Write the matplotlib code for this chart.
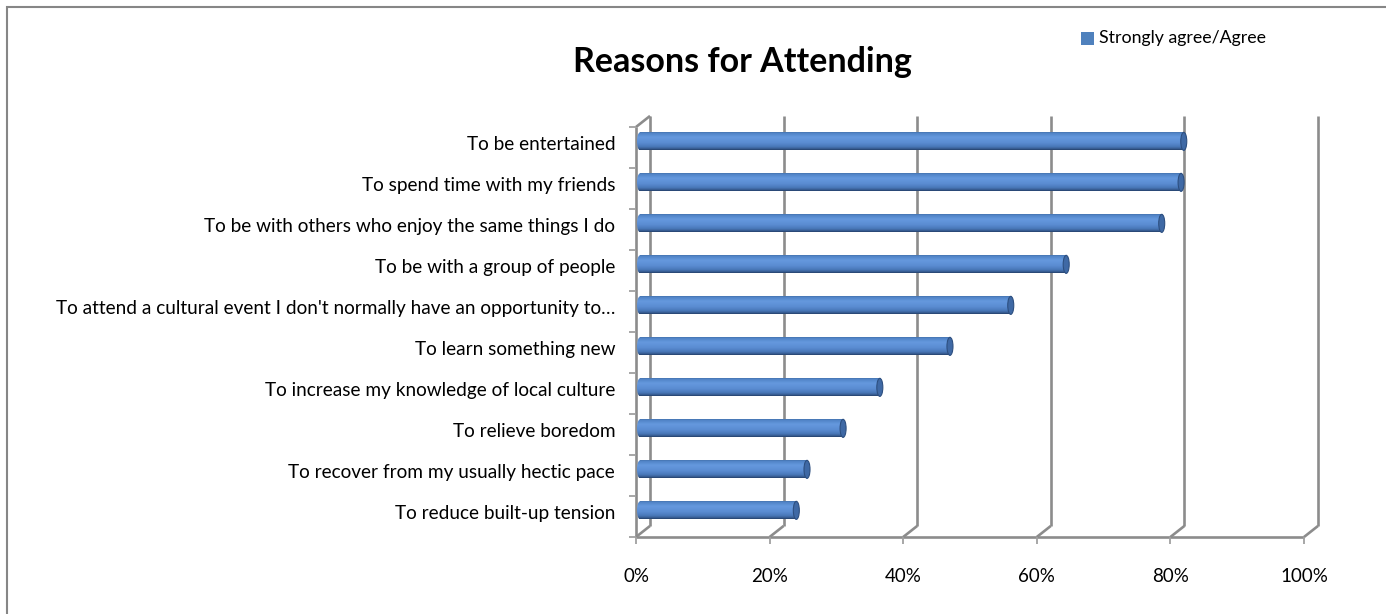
import numpy as np
import matplotlib
matplotlib.use("Agg")
import matplotlib.pyplot as plt
from matplotlib.colors import LinearSegmentedColormap
from matplotlib.patches import Ellipse, Rectangle

plt.rcParams['font.family'] = ['Lato', 'DejaVu Sans']

reasons = [
    "To be entertained",
    "To spend time with my friends",
    "To be with others who enjoy the same things I do",
    "To be with a group of people",
    "To attend a cultural event I don't normally have an opportunity to\u2026",
    "To learn something new",
    "To increase my knowledge of local culture",
    "To relieve boredom",
    "To recover from my usually hectic pace",
    "To reduce built-up tension",
]
agree_pct = [81.4, 81.0, 78.1, 63.8, 55.5, 46.4, 35.9, 30.4, 25.0, 23.4]
x_ticks = [0, 20, 40, 60, 80, 100]
x_ticklabels = ["0%", "20%", "40%", "60%", "80%", "100%"]
series_name = "Strongly agree/Agree"

W, H = 1386, 614
fig = plt.figure(figsize=(W / 100, H / 100), dpi=100)
fig.patch.set_facecolor("white")

# front plane of the 3-D box: x 636..1304 px, y 537..127 px (from top)
ax = fig.add_axes([636 / W, (H - 537) / H, 668 / W, 410 / H])
ax.set_facecolor("none")
for s in ax.spines.values():
    s.set_visible(False)

n = len(reasons)
ypos = np.arange(n)[::-1] + 0.5          # first category on top
depth_dx, depth_dy = 2.1, 0.27            # back wall offset (data units)
bar_dx, bar_dy = 0.6, 0.15                # bars sit a little behind the front
bar_h = 0.44

wall = dict(color="#8c8c8c", lw=1.9, clip_on=False, solid_capstyle="butt", zorder=1)

# back wall gridlines + floor diagonals
for xv in x_ticks:
    ax.plot([xv + depth_dx, xv + depth_dx], [depth_dy, n + depth_dy], **wall)
    ax.plot([xv, xv + depth_dx], [0, depth_dy], **wall)
# left wall and floor front edges
ax.plot([0, 0], [0, n], **wall)
ax.plot([0, depth_dx], [n, n + depth_dy], **wall)
ax.plot([0, 100], [0, 0], **wall)

# cylinder shading
shade = LinearSegmentedColormap.from_list("cyl", [
    (0.0, "#3a6196"), (0.1, "#5083c6"), (0.32, "#6599de"),
    (0.6, "#5b8dd3"), (0.82, "#4a79ba"), (0.93, "#395f96"), (1.0, "#24416b")])
grad = np.linspace(0, 1, 64).reshape(-1, 1)
cap_rx = 0.45

bars = ax.barh(ypos + bar_dy, agree_pct, left=bar_dx, height=bar_h,
               color="#4f81bd", linewidth=0, zorder=3)
for rect in bars:
    x0, y0 = rect.get_x(), rect.get_y()
    w, h = rect.get_width(), rect.get_height()
    left_cap = Ellipse((x0, y0 + h / 2), 2 * cap_rx, h, facecolor="none",
                       edgecolor="none", zorder=3)
    ax.add_patch(left_cap)
    for clip in (rect, left_cap):
        im = ax.imshow(grad, cmap=shade, aspect="auto", origin="upper",
                       extent=[x0 - cap_rx, x0 + w, y0, y0 + h], zorder=3,
                       interpolation="bilinear")
        im.set_clip_path(clip)
    ax.add_patch(Ellipse((x0 + w, y0 + h / 2), 2 * cap_rx, h,
                         facecolor="#3f69a5", edgecolor="#2d4f80", lw=0.8,
                         zorder=4))

ax.set_xlim(0, 100)
ax.set_ylim(0, n)

ax.set_xticks(x_ticks)
ax.set_xticklabels(x_ticklabels, fontsize=13.5)
ax.tick_params(axis="x", length=5, width=1.3, color="#a0a0a0", pad=17)

ax.set_yticks(np.arange(n + 1))
ax.set_yticklabels([])
ax.set_yticks(ypos + 0.1, minor=True)
ax.set_yticklabels(reasons, minor=True, fontsize=13.7)
ax.tick_params(axis="y", which="major", length=5, width=1.3, color="#a0a0a0")
ax.tick_params(axis="y", which="minor", length=0, pad=15)

fig.text(742 / W, 1 - 62 / H, "Reasons for Attending", ha="center",
         va="center", fontsize=24.5, fontweight="bold")

# legend
fig.patches.append(Rectangle((1081 / W, 1 - 45 / H), 13 / W, 13 / H,
                             transform=fig.transFigure, facecolor="#4f81bd",
                             edgecolor="none"))
fig.text(1099 / W, 1 - 38 / H, series_name, ha="left", va="center",
         fontsize=12.8)

# chart frame
fig.patches.append(Rectangle((7 / W, -0.05), 1.2, 1 - 7 / H + 0.05,
                             transform=fig.transFigure, facecolor="none",
                             edgecolor="#868686", lw=1.5))

fig.savefig("out.png", dpi=100)
